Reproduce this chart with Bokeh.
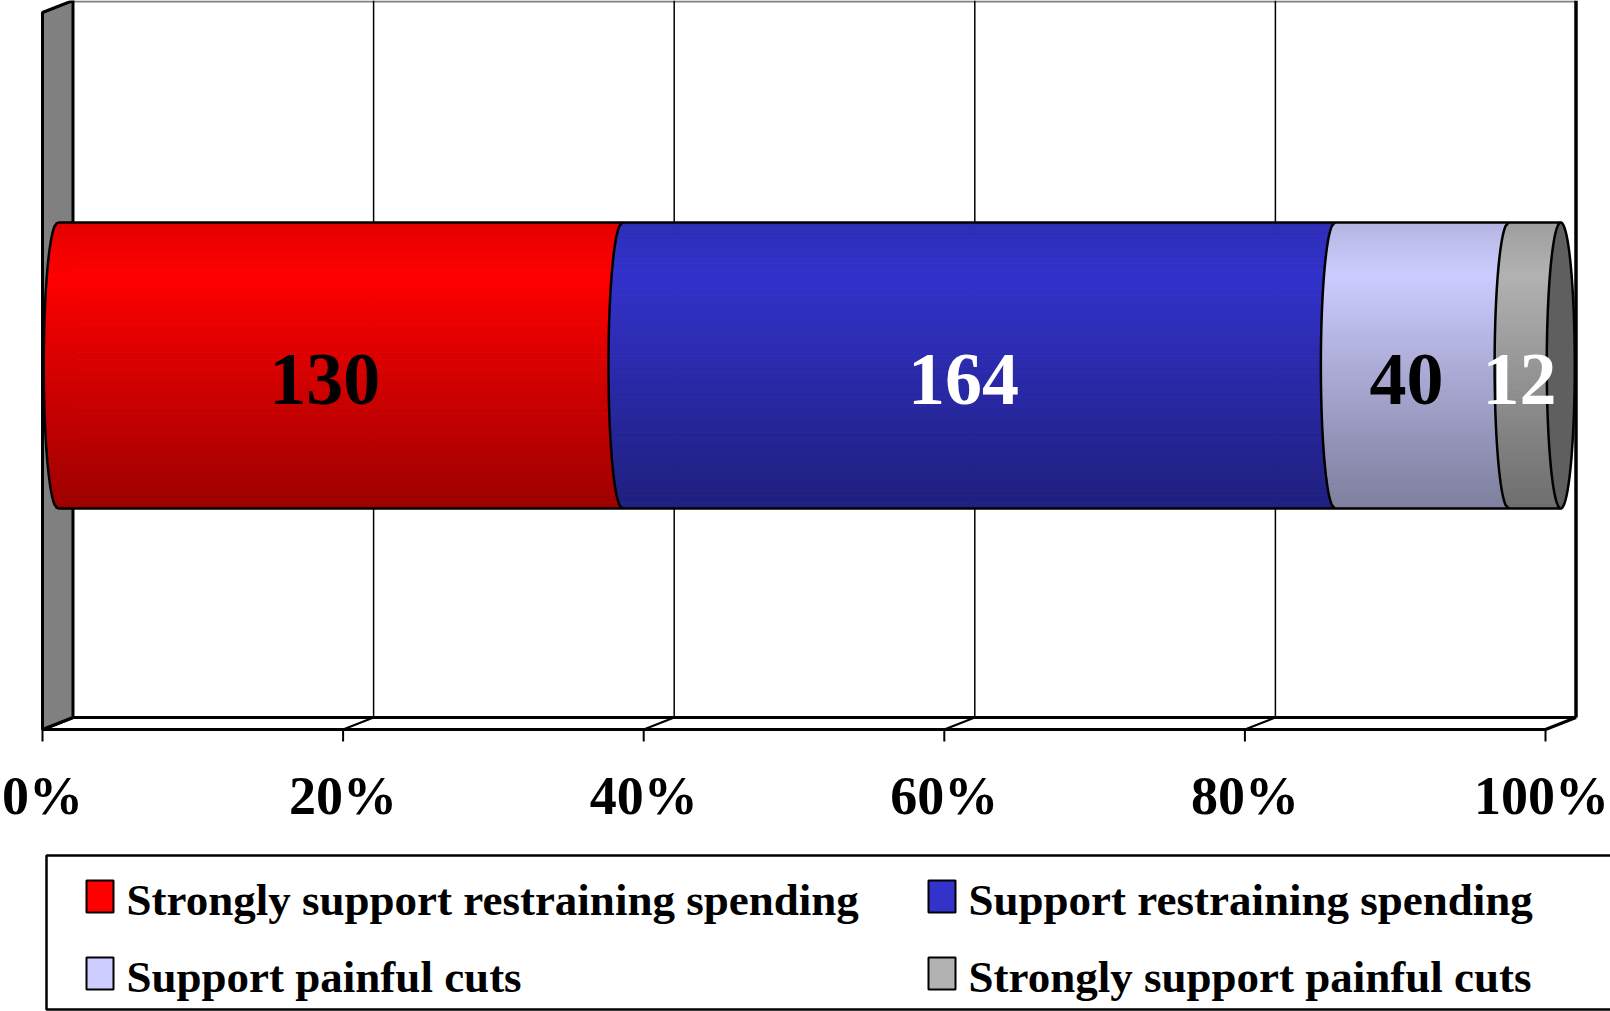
import numpy as np
from bokeh.plotting import figure
from bokeh.models import Range1d, ColumnDataSource
from bokeh.core.properties import value
from bokeh.embed import file_html
from bokeh.resources import INLINE

# ---------------- data ----------------
categories = ["Strongly support restraining spending", "Support restraining spending",
              "Support painful cuts", "Strongly support painful cuts"]
counts = [130, 164, 40, 12]
colors = ["#ff0000", "#3333cc", "#ccccff", "#b2b2b2"]
label_colors = ["black", "white", "black", "white"]
tick_values = [0, 20, 40, 60, 80, 100]
tick_labels = ["0%", "20%", "40%", "60%", "80%", "100%"]

# ---------------- layout (page pixels -> percent units) ----------------
PX0 = 42.0      # page x of 0% on the front plane
PPP = 15.03     # page px per percent


def px(v):
    return (v - PX0) / PPP


DX = 30.5 / PPP          # depth offset in percent units
FRONT_Y, BACK_Y = 729, 717
TOP_FRONT, TOP_BACK = 12, 0
BAR_TOP, BAR_BOT = 222, 508
BAR_H = BAR_BOT - BAR_TOP
BAR_C = (BAR_TOP + BAR_BOT) / 2
A = 14.0 / PPP           # ellipse half-width of the cylinder ends
FONT = value("Liberation Serif")
LABEL_FS, TICK_FS, LEG_FS = 74, 54, 45


def base_y(b, fs):
    # compensate the renderer's baseline placement
    return b - 0.31 * fs


p = figure(width=1610, height=1011, x_range=Range1d(px(0), px(1610)),
           y_range=Range1d(1011, 0), toolbar_location=None, output_backend="svg",
           min_border=0, x_axis_location=None, y_axis_location=None,
           outline_line_color=None, background_fill_color="white",
           border_fill_color="white")
p.grid.grid_line_color = None

# ---------------- walls and floor ----------------
p.patch([DX, 100 + DX, 100 + DX, DX], [TOP_BACK, TOP_BACK, BACK_Y, BACK_Y],
        fill_color="white", line_color=None)
p.line([DX, 100 + DX], [1, 1], line_color="#808080", line_width=2)
inner = tick_values[1:-1]
p.segment(x0=[t + DX for t in inner], y0=[TOP_BACK] * len(inner),
          x1=[t + DX for t in inner], y1=[BACK_Y] * len(inner),
          line_color="black", line_width=1.5)
p.segment(x0=[100 + DX], y0=[TOP_BACK], x1=[100 + DX], y1=[BACK_Y],
          line_color="black", line_width=3.5)
p.patch([0, 100, 100 + DX, DX], [FRONT_Y, FRONT_Y, BACK_Y, BACK_Y],
        fill_color="white", line_color="black", line_width=3)
p.segment(x0=inner, y0=[FRONT_Y] * len(inner), x1=[t + DX for t in inner],
          y1=[BACK_Y] * len(inner), line_color="black", line_width=2)
p.segment(x0=tick_values, y0=[FRONT_Y] * 6, x1=tick_values, y1=[741] * 6,
          line_color="black", line_width=2)
p.patch([0, DX, DX, 0], [TOP_FRONT, TOP_BACK, BACK_Y, FRONT_Y],
        fill_color="#808080", line_color="black", line_width=3)

# ---------------- cylinder bar ----------------
total = float(sum(counts))
pct = np.array([c / total * 100 for c in counts])
starts = np.concatenate([[0], np.cumsum(pct)[:-1]])
ends = starts + pct
mid_depth = DX / 2

N = 90
tt = np.linspace(0, 1, N + 1)


def shade(t):
    return np.interp(t, [0, 0.06, 0.19, 0.5, 1.0], [0.88, 0.93, 1.0, 0.85, 0.62])


def rgb(h):
    h = h.lstrip("#")
    return np.array([int(h[i:i + 2], 16) for i in (0, 2, 4)], dtype=float)


L, R, T, B, C = [], [], [], [], []
for i in range(len(counts)):
    base = rgb(colors[i])
    for j in range(N):
        tm = (tt[j] + tt[j + 1]) / 2
        u = 2 * tm - 1
        off = A * np.sqrt(max(0.0, 1 - u * u))
        L.append(starts[i] + mid_depth - off)
        R.append(ends[i] + mid_depth - off)
        T.append(BAR_TOP + tt[j] * BAR_H)
        B.append(BAR_TOP + tt[j + 1] * BAR_H)
        c = np.clip(base * shade(tm), 0, 255).astype(int)
        C.append("#%02x%02x%02x" % tuple(c))
strips = ColumnDataSource(dict(left=L, right=R, top=T, bottom=B, color=C))
p.quad(left="left", right="right", top="top", bottom="bottom", source=strips,
       fill_color="color", line_color="color", line_width=1)

# outlines
uu = np.linspace(-1, 1, 80)
xs, ys = [], []
for b in list(starts):
    xs.append(list(b + mid_depth - A * np.sqrt(1 - uu ** 2)))
    ys.append(list(BAR_C + uu * BAR_H / 2))
p.multi_line(xs, ys, line_color="black", line_width=2.5)
p.segment(x0=[mid_depth, mid_depth], y0=[BAR_TOP, BAR_BOT],
          x1=[100 + mid_depth, 100 + mid_depth], y1=[BAR_TOP, BAR_BOT],
          line_color="black", line_width=2.5)
th = np.linspace(0, 2 * np.pi, 120)
p.patch(list(100 + mid_depth + A * np.cos(th)), list(BAR_C + BAR_H / 2 * np.sin(th)),
        fill_color="#5f5f5f", line_color="black", line_width=2.5)

# data labels
p.text(x=list(starts + pct / 2), y=[base_y(402, LABEL_FS)] * len(counts),
       text=[str(c) for c in counts],
       text_color=label_colors, text_font=FONT, text_font_style="bold",
       text_font_size=f"{LABEL_FS}px", text_align="center", text_baseline="alphabetic")

# tick labels
p.text(x=tick_values, y=[base_y(812, TICK_FS)] * 6, text=tick_labels,
       x_offset=[0, 0, 0, 0, 0, -4],
       text_color="black", text_font=FONT, text_font_style="bold",
       text_font_size=f"{TICK_FS}px", text_align="center", text_baseline="alphabetic")

# ---------------- legend ----------------
p.patch([px(46), px(1640), px(1640), px(46)], [855, 855, 1009, 1009],
        fill_color="white", line_color="black", line_width=2.5)
col_x = [86, 928]
row_y = [880, 957]
lb_l, lb_r, lb_t, lb_b, tx, ty = [], [], [], [], [], []
for i in range(len(categories)):
    cx = col_x[i % 2]
    ry = row_y[i // 2]
    lb_l.append(px(cx)); lb_r.append(px(cx + 27))
    lb_t.append(ry); lb_b.append(ry + 32)
    tx.append(px(cx + 40)); ty.append(base_y(ry + 33, LEG_FS))
p.quad(left=lb_l, right=lb_r, top=lb_t, bottom=lb_b, fill_color=colors,
       line_color="black", line_width=2)
p.text(x=tx, y=ty, text=categories, text_color="black", text_font=FONT,
       text_font_style="bold", text_font_size=f"{LEG_FS}px", text_align="left",
       text_baseline="alphabetic")

open("out.html", "w").write(file_html(p, INLINE))
